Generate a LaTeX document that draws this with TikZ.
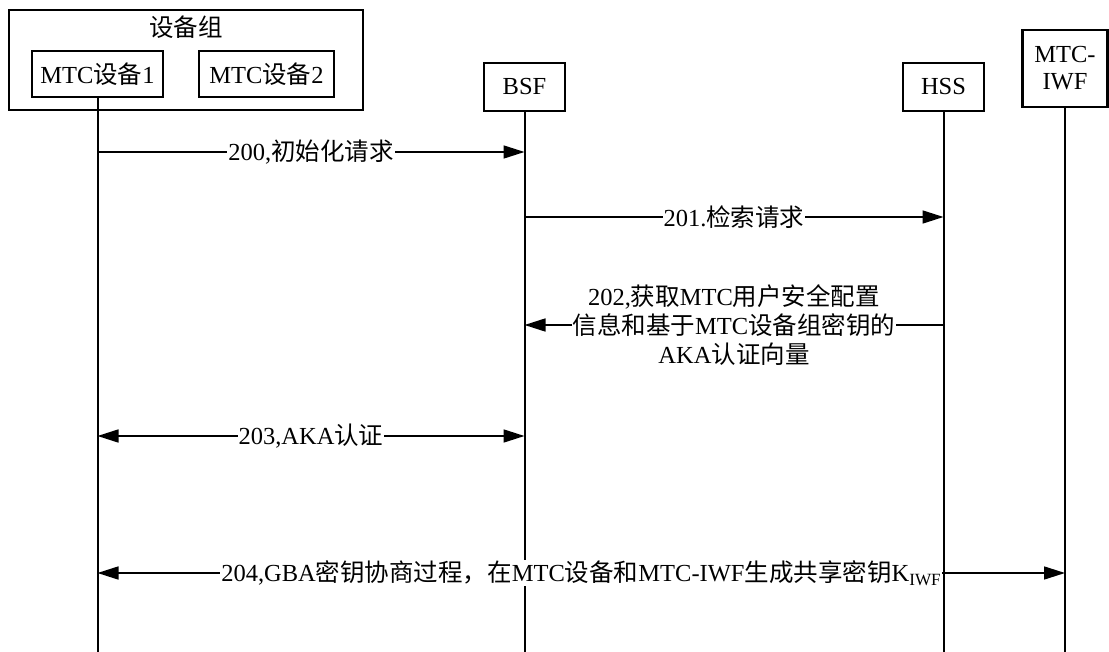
\documentclass[tikz,border=0pt]{standalone}
\usepackage{fontspec}
\setmainfont{Liberation Serif}
\newfontfamily\cjk{Noto Sans CJK SC}
\usetikzlibrary{arrows.meta}
\begin{document}
\begin{tikzpicture}[x=1pt,y=-1pt,
  font=\fontsize{24.5}{29}\selectfont,
  box/.style={draw, line width=2.4pt, inner sep=0pt, align=center},
  life/.style={line width=2pt},
  msg/.style={line width=1.6pt, -{Triangle[length=21pt,width=13pt]}},
  dmsg/.style={line width=1.6pt, {Triangle[length=21pt,width=13pt]}-{Triangle[length=21pt,width=13pt]}},
  lbl/.style={fill=white, inner sep=1pt, align=center}]
\useasboundingbox (0,0) rectangle (1109,652);
% boxes
\node[box, minimum width=354pt, minimum height=100pt] (grp) at (186,60) {};
\node (grplbl) at (186,27) {\cjk 设备组};
\node[box, minimum width=131pt, minimum height=46pt] (dev1) at (97.5,74) {MTC{\cjk 设备}1};
\node[box, minimum width=135pt, minimum height=46pt] (dev2) at (266.5,74) {MTC{\cjk 设备}2};
\node[box, minimum width=81pt, minimum height=48pt] (bsf) at (524.5,87) {BSF};
\node[box, minimum width=81pt, minimum height=48pt] (hss) at (943.5,87) {HSS};
\node[box, minimum width=85pt, minimum height=77pt, font=\fontsize{24.5}{27}\selectfont] (iwf) at (1065,68.5) {MTC-\\IWF};
% lifelines
\coordinate (bot) at (0,652);
\draw[life] (dev1.south) -- (dev1.south |- bot);
\draw[life] (bsf.south) -- (bsf.south |- bot);
\draw[life] (hss.south) -- (hss.south |- bot);
\draw[life] (iwf.south) -- (iwf.south |- bot);
% message rows
\coordinate (y200) at (0,152);
\coordinate (y201) at (0,217);
\coordinate (y202) at (0,325);
\coordinate (y203) at (0,436);
\coordinate (y204) at (0,573);
\draw[msg] (dev1.south |- y200) -- node[lbl] {200,{\cjk 初始化请求}} (bsf.south |- y200);
\draw[msg] (bsf.south |- y201) -- node[lbl] {201.{\cjk 检索请求}} (hss.south |- y201);
\draw[msg] (hss.south |- y202) -- node[lbl] {202,{\cjk 获取}MTC{\cjk 用户安全配置}\\{\cjk 信息和基于}MTC{\cjk 设备组密钥的}\\AKA{\cjk 认证向量}} (bsf.south |- y202);
\draw[dmsg] (dev1.south |- y203) -- node[lbl] {203,AKA{\cjk 认证}} (bsf.south |- y203);
\draw[dmsg] (dev1.south |- y204) -- node[lbl] {204,GBA{\cjk 密钥协商过程，在}MTC{\cjk 设备和}MTC-IWF{\cjk 生成共享密钥}K\textsubscript{IWF}} (iwf.south |- y204);
\end{tikzpicture}
\end{document}
